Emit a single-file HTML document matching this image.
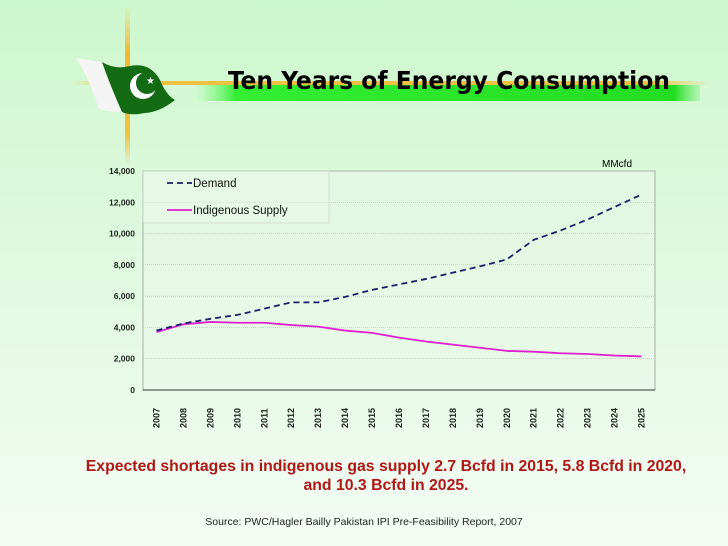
<!DOCTYPE html>
<html><head><meta charset="utf-8"><style>
html,body{margin:0;padding:0}
body{width:728px;height:546px;overflow:hidden;background:linear-gradient(#cdf7cd 0%,#e2fae2 55%,#f4fcf4 100%);position:relative;font-family:"Liberation Sans",sans-serif}
svg{position:absolute;left:0;top:0}
</style></head><body>
<svg width="728" height="546">
<defs>
<linearGradient id="vy" x1="0" x2="0" y1="0" y2="1"><stop offset="0" stop-color="#f0c040" stop-opacity="0"/><stop offset=".3" stop-color="#f0b830"/><stop offset=".8" stop-color="#f0c040"/><stop offset="1" stop-color="#f0c040" stop-opacity="0"/></linearGradient>
<linearGradient id="hy" x1="0" x2="1"><stop offset="0" stop-color="#f0c040" stop-opacity="0"/><stop offset=".1" stop-color="#f0c040"/><stop offset=".9" stop-color="#f0c040"/><stop offset="1" stop-color="#f0c040" stop-opacity="0"/></linearGradient>
<linearGradient id="gb" x1="0" x2="1"><stop offset="0" stop-color="#80ff80" stop-opacity="0"/><stop offset=".08" stop-color="#33ee33"/><stop offset=".95" stop-color="#22dd22"/><stop offset="1" stop-color="#66ee66" stop-opacity="0.3"/></linearGradient>
</defs>
<rect x="125" y="5" width="5" height="160" fill="url(#vy)"/>
<rect x="70" y="81" width="640" height="4" fill="url(#hy)"/>
<rect x="195" y="85" width="505" height="16" fill="url(#gb)"/>
<g>
<path d="M76,58 L102,62 Q110,85 122,112 Q105,112 98,108 Q90,80 76,58Z" fill="#f4f4f4"/>
<path d="M102,62 Q115,70 130,66 Q150,62 160,80 Q166,95 175,100 Q160,112 145,113 Q130,116 122,112 Q110,85 102,62Z" fill="#136b13"/>
<circle cx="143" cy="86" r="13" fill="#fff"/><circle cx="147" cy="83" r="11" fill="#136b13"/>
<text x="146" y="84" font-size="10" fill="#fff">★</text>
</g>
<text x="228" y="89" font-size="25" font-weight="bold" textLength="442" lengthAdjust="spacingAndGlyphs" font-family="'DejaVu Sans Condensed','DejaVu Sans',sans-serif">Ten Years of Energy Consumption</text>
<text x="602" y="167" font-size="10">MMcfd</text>
<g id="chart"></g>
<text x="386" y="471" font-size="15.8" font-weight="bold" fill="#b01818" text-anchor="middle">Expected shortages in indigenous gas supply 2.7 Bcfd in 2015, 5.8 Bcfd in 2020,</text>
<text x="386" y="490" font-size="15.8" font-weight="bold" fill="#b01818" text-anchor="middle">and 10.3 Bcfd in 2025.</text>
<text x="364" y="525" font-size="10.5" fill="#222" text-anchor="middle">Source: PWC/Hagler Bailly Pakistan IPI Pre-Feasibility Report, 2007</text>
</svg>
<script>
const years=[2007,2008,2009,2010,2011,2012,2013,2014,2015,2016,2017,2018,2019,2020,2021,2022,2023,2024,2025];
const demand=[3800,4250,4550,4800,5200,5600,5600,5950,6400,6750,7100,7500,7900,8350,9600,10200,10900,11700,12500];
const supply=[3700,4200,4350,4300,4300,4150,4050,3800,3650,3350,3100,2900,2700,2500,2450,2350,2300,2200,2150];
const yTicks=[0,2000,4000,6000,8000,10000,12000,14000];
const NS="http://www.w3.org/2000/svg";
const L=143,R=655,T=171,B=390;
const x=i=>L+(R-L)*(i+0.5)/years.length;
const y=v=>B-(B-T)*v/14000;
const g=document.getElementById('chart');
function mk(t,a,p){const e=document.createElementNS(NS,t);for(const k in a)e.setAttribute(k,a[k]);(p||g).appendChild(e);return e;}
const bg=mk('rect',{x:L,y:T,width:R-L,height:B-T,fill:'#eaf8ea','fill-opacity':0.5,stroke:'#999','stroke-width':0.8});


yTicks.forEach(v=>{
 if(v>0){const gl=mk('line',{x1:L,x2:R,y1:y(v),y2:y(v),stroke:'#bbb','stroke-width':0.6,'stroke-dasharray':'1,1'});
 
 }
 const t=mk('text',{x:L-8,y:y(v)+3,'font-size':8.5,'font-weight':'bold','text-anchor':'end',fill:'#222'});
 t.textContent=v.toLocaleString('en-US');
 
 
});
const ax=mk('line',{x1:L,x2:R,y1:B,y2:B,stroke:'#333','stroke-width':1});


years.forEach((yr,i)=>{
 const t=mk('text',{transform:`translate(${x(i)+3},${B+38}) rotate(-90)`,'font-size':9,'font-weight':'bold',fill:'#222'});
 t.textContent=yr;
 
 
});
const pd=demand.map((v,i)=>`${i?'L':'M'}${x(i)},${y(v)}`).join('');
const ps=supply.map((v,i)=>`${i?'L':'M'}${x(i)},${y(v)}`).join('');
const ls=mk('path',{d:ps,fill:'none',stroke:'#e020d0','stroke-width':1.8});


const ld=mk('path',{d:pd,fill:'none',stroke:'#1a1f6a','stroke-width':1.8,'stroke-dasharray':'6,4'});


const lg=mk('g',{});


mk('rect',{x:L,y:T,width:186,height:52,fill:'#eaf8ea','fill-opacity':0.5,stroke:'#ccc','stroke-width':0.6},lg);
mk('line',{x1:167,x2:192,y1:183,y2:183,stroke:'#1a1f6a','stroke-width':1.8,'stroke-dasharray':'6,4'},lg);
const t1=mk('text',{x:193,y:187,'font-size':11.5,fill:'#111'},lg);t1.textContent='Demand';


mk('line',{x1:167,x2:192,y1:210,y2:210,stroke:'#e020d0','stroke-width':1.8},lg);
const t2=mk('text',{x:193,y:214,'font-size':11.5,fill:'#111'},lg);t2.textContent='Indigenous Supply';


</script>
</body></html>
